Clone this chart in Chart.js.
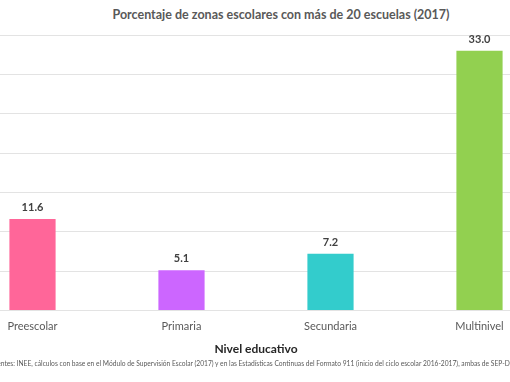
<!DOCTYPE html>
<html>
<head>
<meta charset="utf-8">
<script src="https://cdn.jsdelivr.net/npm/chart.js@4.4.1/dist/chart.umd.min.js"></script>
<style>
  html, body { margin: 0; padding: 0; background: #fff; overflow: hidden; }
  body { width: 510px; height: 382px; position: relative; }
  #title {
    position: absolute; top: 7px; left: 0; width: 562px; text-align: center;
    font: bold 12.5px Lato, sans-serif; color: #595959; white-space: nowrap;
  }
  #wrap { position: absolute; left: -42px; top: 0; width: 596px; height: 362px; }
  #note {
    position: absolute; top: 358px; left: -10px; white-space: nowrap;
    font: 8px Lato, sans-serif; color: #595959;
    transform: scaleX(0.835); transform-origin: left top;
  }
</style>
</head>
<body>
<div id="title">Porcentaje de zonas escolares con más de 20 escuelas (2017)</div>
<div id="wrap"><canvas id="chart" width="596" height="362"></canvas></div>
<div id="note">Fuentes: INEE, cálculos con base en el Módulo de Supervisión Escolar (2017) y en las Estadísticas Continuas del Formato 911 (inicio del ciclo escolar 2016-2017), ambas de SEP-D</div>
<script>
// Data
const niveles = ['Preescolar', 'Primaria', 'Secundaria', 'Multinivel'];
const porcentajes = [11.6, 5.1, 7.2, 33.0];
const coloresBarra = ['#ff6699', '#cc66ff', '#33cccc', '#92d050'];

/** Inline value labels above each bar */
const valueLabels = {
  id: 'valueLabels',
  afterDatasetsDraw(chart) {
    const ctx = chart.ctx;
    const meta = chart.getDatasetMeta(0);
    ctx.save();
    ctx.font = 'bold 11px Lato, sans-serif';
    ctx.fillStyle = '#404040';
    ctx.textAlign = 'center';
    ctx.textBaseline = 'bottom';
    meta.data.forEach((bar, i) => {
      ctx.fillText(porcentajes[i].toFixed(1), bar.x, bar.y - 6);
    });
    ctx.restore();
  }
};

new Chart(document.getElementById('chart'), {
  type: 'bar',
  data: {
    labels: niveles,
    datasets: [{
      data: porcentajes,
      backgroundColor: coloresBarra,
      borderWidth: 0,
      barPercentage: 0.31,
      categoryPercentage: 1
    }]
  },
  options: {
    responsive: false,
    animation: false,
    layout: { padding: { top: 35, bottom: 2, left: 0, right: 0 } },
    plugins: {
      legend: { display: false },
      tooltip: { enabled: false }
    },
    scales: {
      x: {
        grid: { display: false },
        border: { display: false },
        ticks: { color: '#595959', font: { family: 'Lato', size: 11 }, padding: 1 },
        title: {
          display: true,
          text: 'Nivel educativo',
          color: '#262626',
          font: { family: 'Lato', size: 12, weight: 'bold' },
          padding: { top: 8, bottom: 4 }
        }
      },
      y: {
        min: 0,
        max: 35,
        ticks: { display: false, stepSize: 5 },
        grid: { color: '#e3e3e3', lineWidth: 1, drawTicks: false },
        border: { display: false }
      }
    }
  },
  plugins: [valueLabels]
});
</script>
</body>
</html>
